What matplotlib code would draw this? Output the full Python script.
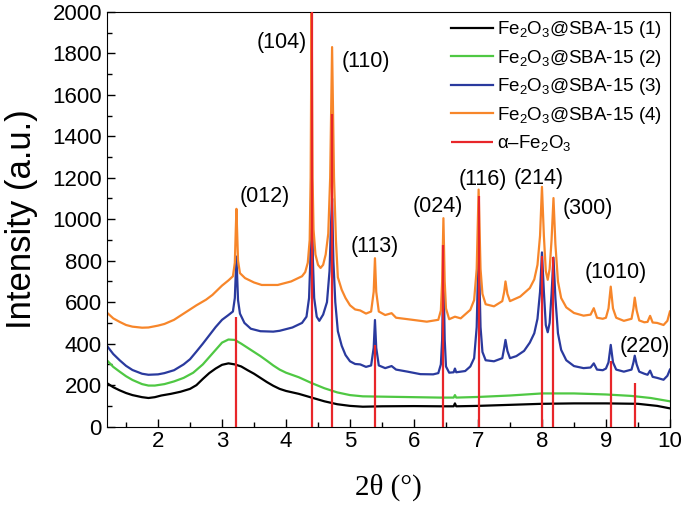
import matplotlib
matplotlib.use("Agg")
import matplotlib.pyplot as plt
from matplotlib.ticker import MultipleLocator

# ------------------------------------------------------------
# XRD patterns of Fe2O3@SBA-15 samples
# ------------------------------------------------------------
plt.rcParams["font.family"] = ["Liberation Sans", "DejaVu Sans"]
plt.rcParams["mathtext.fontset"] = "custom"
plt.rcParams["mathtext.rm"] = "Liberation Sans"
plt.rcParams["mathtext.it"] = "Liberation Sans:italic"

# sample (1)
X_S1 = [1.2, 1.3, 1.4, 1.5, 1.6, 1.75, 1.85, 1.95, 2.05, 2.2, 2.35, 2.5, 2.6,
        2.7, 2.8, 2.9, 3.0, 3.1, 3.2, 3.3, 3.4, 3.5, 3.6, 3.7, 3.8, 3.9, 4.0,
        4.2, 4.4, 4.6, 4.8, 5.0, 5.2, 5.5, 6.0, 6.4, 6.62, 6.64, 6.66, 7.0,
        7.5, 8.0, 8.5, 9.0, 9.5, 9.8, 10.0]
Y_S1 = [210, 190, 175, 162, 152, 142, 138, 142, 150, 158, 168, 182, 200,
        230, 258, 280, 298, 305, 300, 290, 272, 255, 235, 215, 197, 182, 172,
        158, 140, 122, 108, 100, 96, 98, 99, 98, 98, 112, 98, 100,
        105, 110, 112, 112, 110, 100, 88]

# sample (2)
X_S2 = [1.2, 1.3, 1.4, 1.5, 1.6, 1.75, 1.85, 1.95, 2.1, 2.25, 2.4, 2.55, 2.7,
        2.8, 2.9, 3.0, 3.1, 3.2, 3.3, 3.4, 3.5, 3.6, 3.7, 3.8, 3.9, 4.0, 4.2,
        4.4, 4.6, 4.8, 5.0, 5.2, 5.6, 6.4, 6.62, 6.64, 6.66, 7.0, 7.5, 8.0,
        8.5, 9.0, 9.4, 9.7, 10.0]
Y_S2 = [320, 288, 265, 243, 225, 205, 198, 198, 205, 218, 235, 260, 300,
        335, 370, 405, 420, 418, 400, 380, 360, 340, 318, 295, 275, 260, 238,
        210, 185, 165, 152, 146, 144, 140, 140, 152, 140, 143, 150, 160,
        160, 155, 148, 138, 122]

# sample (3)
X_S3 = [1.2, 1.3, 1.4, 1.5, 1.6, 1.75, 1.85, 2.0, 2.1, 2.25, 2.4, 2.5, 2.6,
        2.7, 2.8, 2.9, 3.0, 3.1, 3.17, 3.2, 3.225, 3.25, 3.28, 3.35, 3.45,
        3.6, 3.8, 3.9, 4.1, 4.25, 4.32, 4.36, 4.38, 4.40, 4.42, 4.44, 4.48,
        4.52, 4.58, 4.64, 4.68, 4.70, 4.72, 4.74, 4.77, 4.81, 4.87, 4.93,
        5.0, 5.08, 5.16, 5.25, 5.33, 5.37, 5.39, 5.41, 5.45, 5.55, 5.65,
        5.72, 5.9, 6.1, 6.3, 6.38, 6.42, 6.44, 6.46, 6.48, 6.5, 6.55, 6.62,
        6.64, 6.66, 6.8, 6.88, 6.94, 6.98, 7.01, 7.04, 7.07, 7.12, 7.25,
        7.38, 7.41, 7.43, 7.46, 7.5, 7.6, 7.72, 7.81, 7.88, 7.93, 7.97, 8.0,
        8.03, 8.06, 8.09, 8.12, 8.15, 8.18, 8.21, 8.25, 8.3, 8.38, 8.5,
        8.65, 8.76, 8.81, 8.86, 8.95, 9.0, 9.04, 9.075, 9.11, 9.16, 9.28,
        9.4, 9.43, 9.45, 9.48, 9.52, 9.6, 9.65, 9.69, 9.73, 9.8, 9.9, 9.96,
        10.0]
Y_S3 = [390, 350, 320, 293, 273, 255, 250, 252, 258, 272, 300, 325, 362,
        400, 440, 480, 515, 538, 555, 620, 820, 610, 545, 500, 472,
        460, 458, 462, 478, 500, 530, 620, 800, 1300, 800, 620, 530,
        510, 540, 600, 750, 950, 1100, 800, 600, 460, 390, 345,
        315, 302, 300, 288, 295, 380, 514, 380, 295, 282, 292,
        275, 265, 253, 252, 258, 300, 420, 760, 420, 290, 260, 262,
        280, 262, 268, 290, 330, 480, 880, 480, 360, 320, 315,
        330, 380, 418, 365, 330, 340, 365, 405, 450, 520, 650, 840,
        650, 490, 455, 500, 640, 815, 620, 450, 370, 320, 292,
        282, 285, 305, 275, 272, 280, 310, 394, 310, 275, 265,
        275, 310, 342, 300, 265, 255, 250, 270, 240, 235, 226, 245,
        275]

# sample (4)
X_S4 = [1.2, 1.3, 1.4, 1.5, 1.6, 1.75, 1.85, 2.0, 2.1, 2.25, 2.4, 2.5, 2.6,
        2.75, 2.85, 3.0, 3.1, 3.17, 3.2, 3.215, 3.225, 3.235, 3.25, 3.28,
        3.36, 3.5, 3.62, 3.87, 4.08, 4.25, 4.30, 4.34, 4.37, 4.385, 4.40,
        4.415, 4.43, 4.46, 4.5, 4.54, 4.58, 4.62, 4.66, 4.69, 4.72, 4.75,
        4.78, 4.81, 4.87, 4.93, 5.0, 5.08, 5.16, 5.25, 5.33, 5.37, 5.39,
        5.41, 5.45, 5.55, 5.65, 5.72, 5.9, 6.2, 6.38, 6.42, 6.44, 6.46, 6.48,
        6.5, 6.55, 6.64, 6.73, 6.88, 6.94, 6.98, 7.01, 7.04, 7.07, 7.12,
        7.25, 7.38, 7.41, 7.43, 7.46, 7.5, 7.66, 7.81, 7.88, 7.93, 7.97, 8.0,
        8.03, 8.06, 8.09, 8.12, 8.15, 8.18, 8.21, 8.25, 8.3, 8.38, 8.5, 8.65,
        8.76, 8.81, 8.86, 8.95, 9.0, 9.04, 9.075, 9.11, 9.16, 9.28, 9.4,
        9.43, 9.45, 9.48, 9.52, 9.6, 9.65, 9.69, 9.73, 9.8, 9.9, 9.96, 10.0]
Y_S4 = [550, 522, 505, 490, 482, 477, 478, 487, 495, 515, 545, 565, 585,
        612, 635, 680, 705, 725, 790, 950, 1050, 950, 800, 740,
        716, 695, 683, 683, 700, 725, 745, 790, 900, 1200, 2050,
        1200, 950, 830, 780, 765, 780, 830, 930, 1200, 1830, 1200,
        900, 720, 660, 620, 585, 565, 560, 545, 555, 650, 812,
        650, 555, 538, 547, 525, 518, 506, 515, 560, 700, 1005, 700,
        570, 518, 530, 522, 563, 610, 760, 1143, 760, 640, 590,
        580, 605, 650, 700, 640, 605, 627, 668, 710, 780, 920, 1156,
        920, 750, 708, 760, 900, 1102, 880, 700, 620, 575, 548, 535,
        540, 571, 525, 520, 525, 570, 675, 570, 525, 510, 520,
        570, 622, 560, 512, 503, 505, 534, 502, 500, 490, 510, 555]

# alpha-Fe2O3 reference lines
REF_POS = [3.225, 4.40, 4.72, 5.39, 6.46, 7.01, 8.0, 8.18, 9.075, 9.45]
REF_INT = [530, 2100, 1507, 392, 876, 1112, 823, 816, 316, 212]

# peak labels
PEAK_LABELS = ["(012)", "(104)", "(110)", "(113)", "(024)", "(116)",
               "(214)", "(300)", "(1010)", "(220)"]
LABEL_X = [3.66, 3.93, 5.25, 5.39, 6.37, 7.07, 7.95, 8.72, 9.16, 9.60]
LABEL_Y = [1110, 1851, 1762, 869, 1062, 1191, 1194, 1054, 743, 386]

SERIES_LABELS = ["Fe$_2$O$_3$@SBA-15 (1)", "Fe$_2$O$_3$@SBA-15 (2)",
                 "Fe$_2$O$_3$@SBA-15 (3)", "Fe$_2$O$_3$@SBA-15 (4)"]
REF_LABEL = "\u03b1\u2013Fe$_2$O$_3$"
COLORS = ["#000000", "#4fc843", "#2a3a9e", "#f7862a"]
RED = "#e8262a"

fig = plt.figure(figsize=(6.85, 5.14), dpi=100)
ax = fig.add_axes([0.156, 0.170, 0.822, 0.807])

series = [(X_S1, Y_S1), (X_S2, Y_S2), (X_S3, Y_S3), (X_S4, Y_S4)]
for (xs, ys), c, lab in zip(series, COLORS, SERIES_LABELS):
    ax.plot(xs, ys, color=c, lw=1.6, label=lab, solid_joinstyle="round")

ax.vlines(REF_POS, 0, REF_INT, colors=RED, lw=1.6, zorder=5, label=REF_LABEL)

for lab, lx, ly in zip(PEAK_LABELS, LABEL_X, LABEL_Y):
    ax.text(lx, ly, lab, ha="center", va="center", fontsize=15.5)

ax.set_xlim(1.2, 10)
ax.set_ylim(0, 2000)
ax.xaxis.set_major_locator(MultipleLocator(1))
ax.xaxis.set_minor_locator(MultipleLocator(0.5))
ax.yaxis.set_major_locator(MultipleLocator(200))
ax.yaxis.set_minor_locator(MultipleLocator(100))
ax.tick_params(which="both", direction="in", top=False, right=False,
               labelsize=16, width=1.0)
ax.tick_params(which="major", length=6)
ax.tick_params(which="minor", length=3.5)
ax.set_xticks([2, 3, 4, 5, 6, 7, 8, 9, 10])

ax.set_ylabel("Intensity (a.u.)", fontsize=25, labelpad=10)
ax.set_xlabel("2\u03b8 (\u00b0)", fontsize=21, family=["Liberation Serif"],
              labelpad=15)

ax.legend(loc="upper right", frameon=False, fontsize=13.5,
          handlelength=2.2, handletextpad=0.25, labelspacing=0.4,
          borderaxespad=0.0, bbox_to_anchor=(1.0, 1.0))

fig.savefig("out.png", dpi=100)
